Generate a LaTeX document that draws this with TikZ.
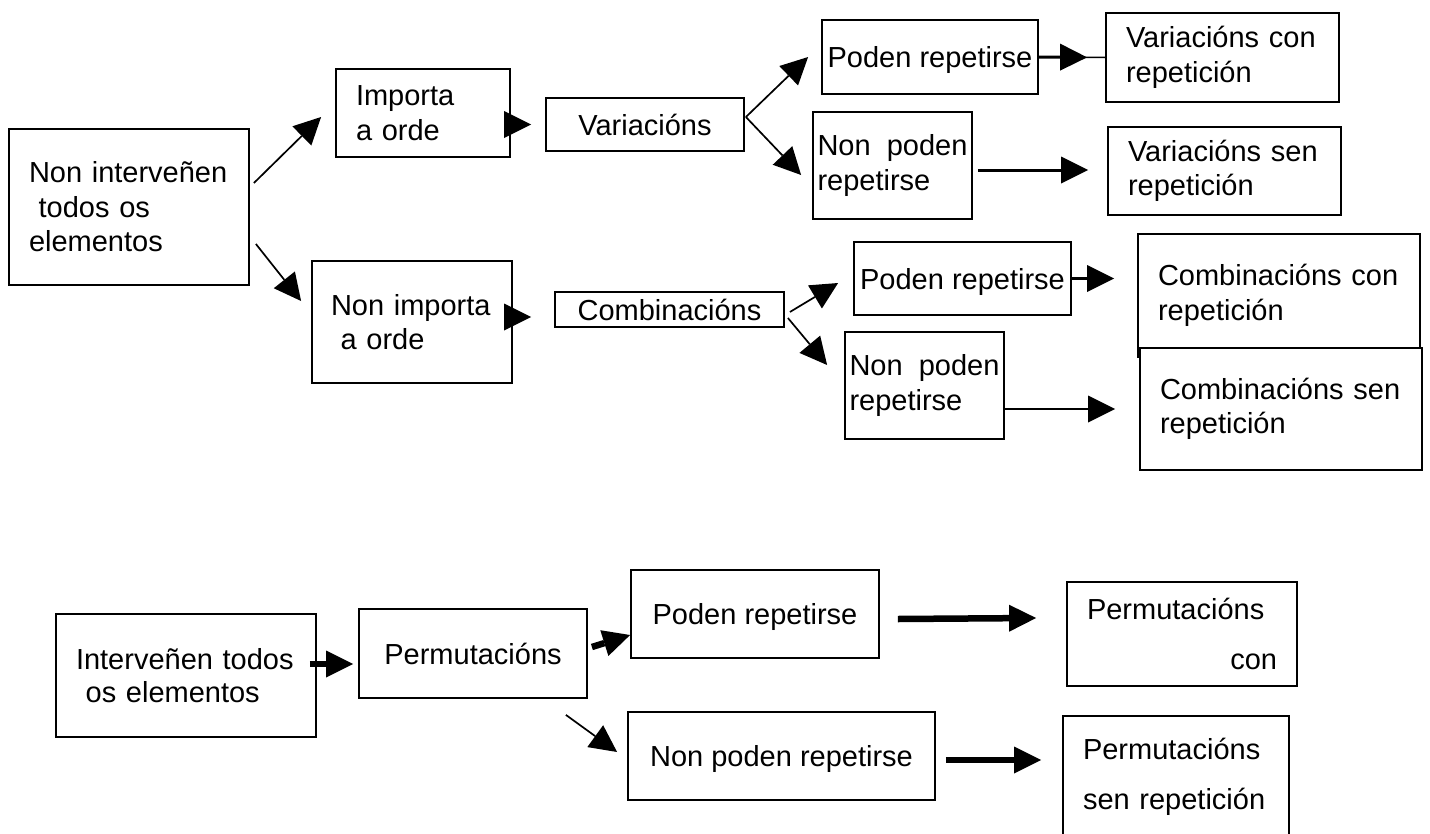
\documentclass[tikz,border=0pt]{standalone}
\usepackage{fontspec}
\setmainfont{Liberation Sans}
\usetikzlibrary{arrows.meta,positioning}
\tikzset{
  box/.style={draw=black,fill=white,line width=1.8pt,inner sep=0pt,
              font=\fontsize{29pt}{34.5pt}\selectfont},
  oneline/.style={box,text height=21pt,text depth=0pt},
  multi/.style={box,align=left},
  link/.style={-{Triangle[length=27pt,width=27pt,line width=0pt]},line width=1.7pt},
  boldlink/.style={link,line width=3pt},
  fatlink/.style={link,line width=6.5pt},
  plain/.style={line width=1.5pt},
}
\begin{document}
\begin{tikzpicture}[x=1pt,y=-1pt]
  \useasboundingbox (0,0) rectangle (1430,833);
  % non interveñen todos os elementos
  \node[multi,minimum width=240pt,minimum height=156pt,text width=200pt] (ni) at (129,207) {Non interveñen\\~todos os\\elementos};
  \node[multi,minimum width=174pt,minimum height=88pt,text width=134pt] (imp) at (423,113) {Importa\\a orde};
  \node[multi,minimum width=200pt,minimum height=122pt,text width=162pt] (nimp) at (412,322) {Non importa\\~a orde};
  \node[oneline,minimum width=198pt,minimum height=53pt] (var) at (645,124.5) {Variacións};
  \node[oneline,minimum width=216pt,minimum height=74pt] (vpod) at (930,57) {Poden repetirse};
  \node[multi,minimum width=159pt,minimum height=107pt,text width=150pt] (vnon) at (892.5,165.5) {Non\hfill poden\\repetirse};
  \node[multi,minimum width=233pt,minimum height=89pt,text width=193pt] (vcon) at (1222.5,57.5) {Variacións con\\repetición};
  \node[multi,minimum width=233pt,minimum height=88pt,text width=193pt] (vsen) at (1224.5,171) {Variacións sen\\repetición};
  \node[oneline,minimum width=229pt,minimum height=35pt] (comb) at (669.5,309.5) {Combinacións};
  \node[oneline,minimum width=217pt,minimum height=73pt] (cpod) at (962.5,278.5) {Poden repetirse};
  \node[multi,minimum width=159pt,minimum height=107pt,text width=150pt] (cnon) at (924.5,385.5) {Non\hfill poden\\repetirse};
  \node[multi,minimum width=282pt,minimum height=123pt,text width=242pt] (ccon) at (1279,295.5) {Combinacións con\\repetición};
  \node[multi,minimum width=282pt,minimum height=122pt,text width=242pt] (csen) at (1281,409) {Combinacións sen\\repetición};

  \draw[link] ([shift={(4,-24)}]ni.east) -- ([shift={(-14,4)}]imp.west);
  \draw[link] ([shift={(6,37)}]ni.east) -- ([shift={(-10,-21)}]nimp.west);
  \draw[link,shorten >=14pt] (imp.east |- var.west) -- (var.west);
  \draw[link,shorten >=23pt] ([yshift=5pt]nimp.east) -- ([yshift=-7.5pt]comb.west);
  \draw[link] ([shift={(1,-7.5)}]var.east) -- ([shift={(-13,0)}]vpod.west);
  \draw[link] ([shift={(1,-7.5)}]var.east) -- ([shift={(-11,9.5)}]vnon.west);
  \draw[plain] (vpod.east) -- (vcon.west);
  \draw[boldlink,shorten >=18pt] (vpod.east) -- (vcon.west);
  \draw[boldlink] ([shift={(5,4.5)}]vnon.east) -- ([shift={(-19,-1)}]vsen.west);
  \draw[link] ([shift={(5,2.5)}]comb.east) -- ([shift={(-15,4.5)}]cpod.west);
  \draw[link] ([shift={(3,8.5)}]comb.east) -- ([shift={(-17,-20.5)}]cnon.west);
  \draw[link,line width=2.3pt,shorten >=23pt] (cpod.east) -- (cpod.east -| ccon.west);
  \draw[link,shorten >=24pt] (cnon.east |- csen.west) -- (csen.west);

  % interveñen todos os elementos
  \node[multi,font=\fontsize{29pt}{33pt}\selectfont,minimum width=260pt,minimum height=123pt,text width=220pt] (int) at (186,675.5) {Interveñen todos\\~os elementos};
  \node[oneline,minimum width=228pt,minimum height=89pt] (perm) at (473,653.5) {Permutacións};
  \node[oneline,minimum width=248pt,minimum height=88pt] (ppod) at (755,614) {Poden repetirse};
  \node[oneline,minimum width=307pt,minimum height=88pt] (pnon) at (781.5,756) {Non poden repetirse};
  \node[multi,font=\fontsize{29pt}{50pt}\selectfont,minimum width=230pt,minimum height=104pt,text width=190pt] (pcon) at (1182,634) {Permutacións\\\hfill con};
  \node[multi,font=\fontsize{29pt}{50pt}\selectfont,minimum width=226pt,minimum height=122pt,text width=186pt] (psen) at (1176,777) {Permutacións\\sen repetición};

  \draw[fatlink] ([shift={(-7,-11.5)}]int.east) -- ([shift={(-5,10.5)}]perm.west);
  \draw[fatlink] ([shift={(4,-6.5)}]perm.east) -- ([shift={(0,21)}]ppod.west);
  \draw[link] ([shift={(-22,16)}]perm.south east) -- ([shift={(-10,-4)}]pnon.west);
  \draw[fatlink] ([shift={(18,5)}]ppod.east) -- ([shift={(-30,-16)}]pcon.west);
  \draw[fatlink] ([shift={(10,4)}]pnon.east) -- ([shift={(-21,-17)}]psen.west);
\end{tikzpicture}
\end{document}
